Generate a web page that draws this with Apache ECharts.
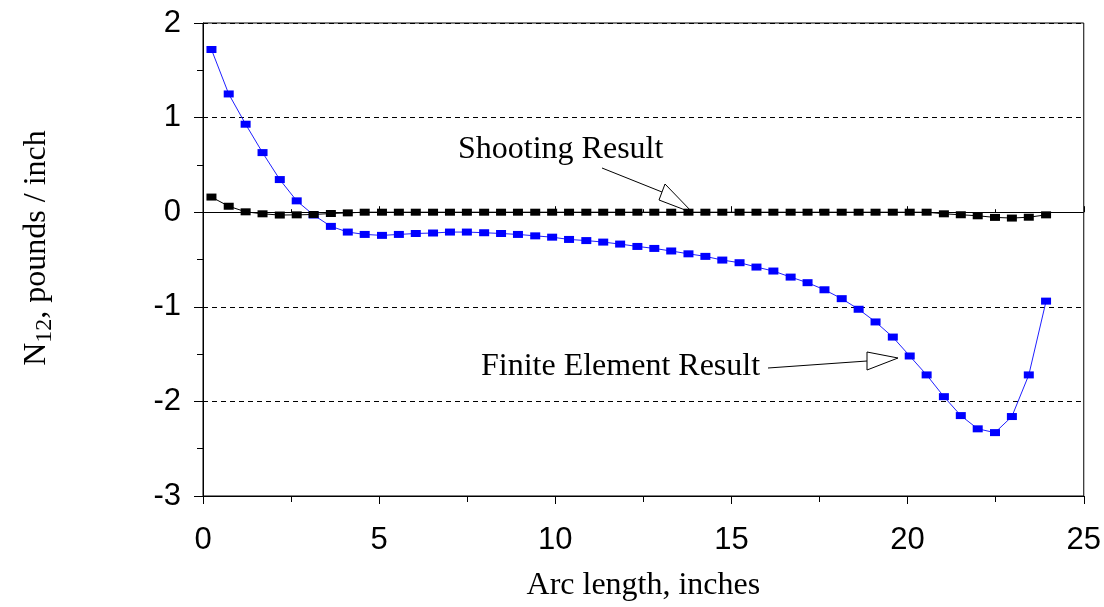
<!DOCTYPE html>
<html>
<head>
<meta charset="utf-8">
<script src="https://cdn.jsdelivr.net/npm/echarts@6/dist/echarts.min.js"></script>
<style>
  html, body { margin: 0; padding: 0; background: #fff; }
  #chart { width: 1104px; height: 607px; }
</style>
</head>
<body>
<div id="chart"></div>
<script>
// arc length of each element midpoint (inches)
var arcLength = [0.24, 0.73, 1.21, 1.69, 2.18, 2.66, 3.14, 3.63, 4.11, 4.59,
  5.08, 5.56, 6.04, 6.53, 7.01, 7.49, 7.98, 8.46, 8.94, 9.43,
  9.91, 10.39, 10.88, 11.36, 11.84, 12.33, 12.81, 13.29, 13.78, 14.26,
  14.74, 15.23, 15.71, 16.19, 16.68, 17.16, 17.64, 18.13, 18.61, 19.09,
  19.58, 20.06, 20.54, 21.03, 21.51, 21.99, 22.48, 22.96, 23.44, 23.93];

// finite element result (blue)
var feResult = [1.72, 1.25, 0.93, 0.63, 0.345, 0.12, -0.03, -0.15, -0.21, -0.235,
  -0.245, -0.235, -0.225, -0.22, -0.21, -0.21, -0.217, -0.225, -0.235, -0.25,
  -0.264, -0.288, -0.30, -0.316, -0.337, -0.362, -0.383, -0.41, -0.44, -0.467,
  -0.506, -0.534, -0.58, -0.622, -0.686, -0.745, -0.82, -0.914, -1.026, -1.16,
  -1.32, -1.52, -1.72, -1.95, -2.15, -2.29, -2.33, -2.16, -1.72, -0.94];

// shooting result (black)
var shootResult = [0.16, 0.063, 0.004, -0.017, -0.03, -0.028, -0.024, -0.014, -0.007, 0,
  0, 0, 0, 0, 0, 0, 0, 0, 0, 0,
  0, 0, 0, 0, 0, 0, 0, 0, 0, 0,
  0, 0, 0, 0, 0, 0, 0, 0, 0, 0,
  0, 0, 0, -0.017, -0.027, -0.038, -0.055, -0.062, -0.053, -0.028];

var xTicks = [0, 5, 10, 15, 20, 25];
var yTicks = [-3, -2, -1, 0, 1, 2];

function pairs(xs, ys) {
  return xs.map(function (x, i) { return [x, ys[i]]; });
}

var serif = 'Liberation Serif, Times New Roman, serif';
var sans = 'Liberation Sans, Arial, sans-serif';

var chart = echarts.init(document.getElementById('chart'));

var option = {
  backgroundColor: '#fff',
  animation: false,
  grid: {
    left: 203, right: 19, top: 23, bottom: 111,
    show: true, borderColor: '#000', borderWidth: 1
  },
  xAxis: [{
    type: 'value',
    min: xTicks[0], max: xTicks[xTicks.length - 1], interval: 5,
    name: 'Arc length, inches',
    nameLocation: 'middle', nameGap: 74,
    nameTextStyle: { fontFamily: serif, fontSize: 32, color: '#000' },
    axisLine: { onZero: false, lineStyle: { color: '#000', width: 1 } },
    axisTick: { length: 8, lineStyle: { color: '#000' } },
    minorTick: { show: true, splitNumber: 2, length: 6, lineStyle: { color: '#000' } },
    axisLabel: { fontFamily: sans, fontSize: 31, color: '#000', margin: 29 },
    splitLine: { show: false }
  }, {
    // inner half of the crossing ticks
    type: 'value', position: 'bottom',
    min: xTicks[0], max: xTicks[xTicks.length - 1], interval: 5,
    axisLine: { show: false },
    axisTick: { inside: true, length: 6, lineStyle: { color: '#000' } },
    minorTick: { show: true, splitNumber: 2, length: 3, lineStyle: { color: '#000' } },
    axisLabel: { show: false },
    splitLine: { show: false }
  }],
  yAxis: {
    type: 'value',
    min: yTicks[0], max: yTicks[yTicks.length - 1], interval: 1,
    axisLine: { onZero: false, lineStyle: { color: '#000', width: 1 } },
    axisTick: { length: 9, lineStyle: { color: '#000' } },
    minorTick: { show: true, splitNumber: 2, length: 6, lineStyle: { color: '#000' } },
    axisLabel: { fontFamily: sans, fontSize: 31, color: '#000', margin: 22 },
    splitLine: { show: true, lineStyle: { color: '#000', type: [5, 4], width: 1 } }
  },
  series: [{
    name: 'Finite Element Result',
    type: 'line',
    data: pairs(arcLength, feResult),
    symbol: 'rect', symbolSize: [10, 7],
    lineStyle: { color: '#2020ff', width: 1 },
    itemStyle: { color: '#0000ff' },
    z: 3
  }, {
    name: 'Shooting Result',
    type: 'line',
    data: pairs(arcLength, shootResult),
    symbol: 'rect', symbolSize: [10, 7],
    lineStyle: { color: '#000', width: 1 },
    itemStyle: { color: '#000' },
    markLine: {
      silent: true, symbol: 'none', label: { show: false },
      lineStyle: { color: '#000', type: 'solid', width: 1 },
      data: [{ yAxis: 0 }]
    },
    z: 4
  }],
  graphic: [{
    type: 'text',
    x: 39, y: 248, rotation: Math.PI / 2,
    style: {
      text: '{n|N}{s|12}{n|, pounds / inch}',
      align: 'center', verticalAlign: 'middle',
      fill: '#000',
      rich: {
        n: { fontFamily: serif, fontSize: 32, lineHeight: 36, verticalAlign: 'top' },
        s: { fontFamily: serif, fontSize: 24, lineHeight: 26, verticalAlign: 'bottom', padding: [12, 0, 0, 0] }
      }
    }
  }, {
    type: 'text', x: 458, y: 150,
    style: { text: 'Shooting Result', fontFamily: serif, fontSize: 32, fill: '#000', align: 'left', verticalAlign: 'middle' }
  }, {
    type: 'line',
    shape: { x1: 602, y1: 168, x2: 662, y2: 192 },
    style: { stroke: '#000', lineWidth: 1 }
  }, {
    type: 'polygon',
    shape: { points: [[665, 184], [659, 200], [693, 213]] },
    style: { fill: '#fff', stroke: '#000', lineWidth: 1 }
  }, {
    type: 'text', x: 481, y: 367,
    style: { text: 'Finite Element Result', fontFamily: serif, fontSize: 32, fill: '#000', align: 'left', verticalAlign: 'middle' }
  }, {
    type: 'line',
    shape: { x1: 768, y1: 368, x2: 867, y2: 361 },
    style: { stroke: '#000', lineWidth: 1 }
  }, {
    type: 'polygon',
    shape: { points: [[867, 352], [867, 370], [898, 358]] },
    style: { fill: '#fff', stroke: '#000', lineWidth: 1 }
  }]
};

chart.setOption(option);
</script>
</body>
</html>
